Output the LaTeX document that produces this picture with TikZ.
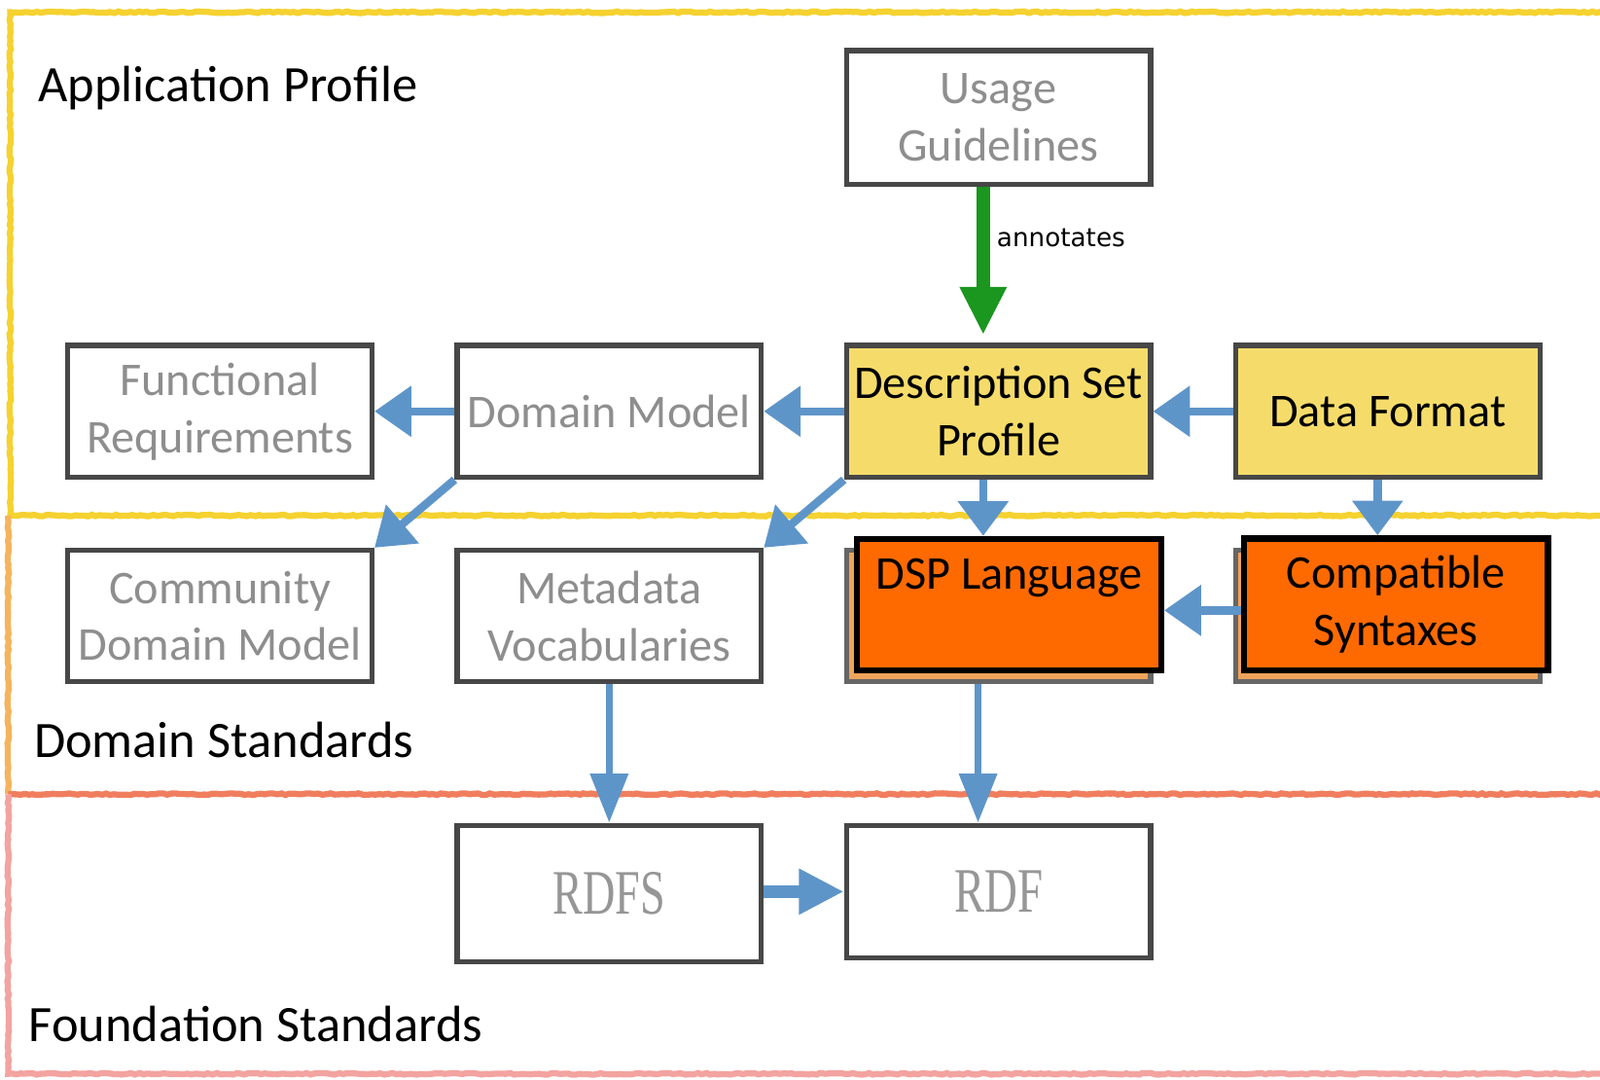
\documentclass[tikz,border=0pt]{standalone}
\usepackage{fontspec}
\setmainfont{Carlito}
\newfontfamily\annofont{DejaVu Sans}
\newfontfamily\rdffont{Liberation Serif}
\usetikzlibrary{positioning,arrows.meta,decorations.pathmorphing}
\tikzset{>=latex}
\definecolor{bandyellow}{HTML}{F5D230}
\definecolor{bandorange}{HTML}{F5B45C}
\definecolor{bandsalmon}{HTML}{F07E5E}
\definecolor{bandpink}{HTML}{F3A3A0}
\definecolor{dspyellow}{HTML}{F5DC6A}
\definecolor{boxorange}{HTML}{FF6A00}
\definecolor{backorange}{HTML}{EFA45A}
\definecolor{arrowblue}{HTML}{5E95C9}
\definecolor{arrowgreen}{HTML}{1B961F}
\definecolor{boxgray}{HTML}{8E8E8E}
\definecolor{rdfgray}{HTML}{969696}
\tikzset{
  box/.style={draw=black!72, line width=2.5pt, fill=white, minimum width=149pt, minimum height=64.5pt, inner sep=2pt, align=center, text=boxgray, font=\fontsize{23}{28}\selectfont},
  yellowbox/.style={box, fill=dspyellow, text=black},
  backbox/.style={box, draw=black!60, fill=backorange},
  orangebox/.style={box, draw=black, line width=3pt, fill=boxorange, text=black},
  bluearrow/.style={draw=arrowblue, line width=4pt, -{Triangle[width=24pt,length=18pt]}},
  shortarrow/.style={bluearrow, -{Triangle[width=24pt,length=17pt]}},
  longarrow/.style={draw=arrowblue, line width=3.5pt, -{Triangle[width=18pt,length=24pt]}},
  fatarrow/.style={draw=arrowblue, line width=6pt, -{Triangle[width=21pt,length=22pt]}},
  greenarrow/.style={draw=arrowgreen, line width=6.5pt, -{Triangle[width=21.5pt,length=23.5pt]}, shorten >=4pt},
  anno/.style={right=3pt, inner sep=0.5pt, text=black, font=\annofont\fontsize{12.5}{15}\selectfont},
  band/.style={line width=3pt, decorate, decoration={random steps, segment length=2pt, amplitude=0.4pt}},
  bandlabel/.style={anchor=base west, inner sep=0pt, font=\fontsize{25}{30}\selectfont}
}

\begin{document}
\begin{tikzpicture}[x=0.5pt, y=-0.5pt]
  \useasboundingbox (0,0) rectangle (1568,1058);
  \draw[band, draw=bandyellow] (1600,12) -- (10,12) -- (10,505) -- (1600,505);
  \draw[band, draw=bandorange] (8,505) -- (8,778);
  \draw[band, draw=bandsalmon] (8,778) -- (1600,778);
  \draw[band, draw=bandpink] (8,778) -- (8,1052) -- (1600,1052);
  \node[bandlabel] (ap) at (37,100) {Application Profile};
  \node[bandlabel] (ds) at (33,742) {Domain Standards};
  \node[bandlabel] (fs) at (28,1020) {Foundation Standards};

  \node[yellowbox] (dsp) at (978.5,403) {Description Set\\Profile};
  \node[box, left=39.25pt of dsp] (dm) {Domain Model};
  \node[box, left=39.25pt of dm] (fr) {Functional\\Requirements};
  \node[yellowbox, right=39.25pt of dsp] (df) {Data Format};
  \node[box, minimum height=65.5pt, above=76.5pt of dsp] (ug) {Usage\\Guidelines};
  \node[box, below=33.25pt of fr] (cdm) {Community\\Domain Model};
  \node[box, below=33.25pt of dm] (mv) {Metadata\\Vocabularies};
  \node[backbox, below=33.25pt of dsp] (dspl back) {};
  \node[backbox, below=33.25pt of df] (cs back) {};
  \node[orangebox] (dspl) at ([xshift=5.25pt,yshift=5.5pt]dspl back.center) {DSP Language\\[-6pt]\strut};
  \node[orangebox] (cs) at ([xshift=4pt,yshift=5.75pt]cs back.center) {Compatible\\Syntaxes};
  \node[box, minimum height=67pt, below=67.75pt of mv, text=rdfgray] (rdfs) {\rdffont\fontsize{31}{34}\selectfont\scalebox{0.71}[1]{RDFS}};
  \node[box, minimum height=65pt, right=39.25pt of rdfs.north east, anchor=north west, text=rdfgray] (rdf) {\rdffont\fontsize{31}{34}\selectfont\scalebox{0.72}[1]{RDF}};

  \draw[greenarrow] ([xshift=-7.5pt]ug.south) -- node[anno, pos=0.33]{annotates} ([xshift=-7.5pt]ug.south |- dsp.north);
  \draw[bluearrow] (dm) -- (fr);
  \draw[bluearrow] (dsp) -- (dm);
  \draw[bluearrow] (df) -- (dsp);
  \draw[bluearrow] (dm.south west) -- (cdm.north east);
  \draw[bluearrow] (dsp.south west) -- (mv.north east);
  \draw[shortarrow] ([xshift=-7.5pt]dsp.south) -- ([xshift=-7.5pt]dsp.south |- dspl.north);
  \draw[shortarrow] ([xshift=-5pt]df.south) -- ([xshift=-5pt]df.south |- cs.north);
  \draw[bluearrow] ([yshift=-3pt]cs.west) -- ([yshift=-3pt]cs.west -| dspl.east);
  \draw[longarrow] (mv) -- (rdfs);
  \draw[longarrow] ([xshift=-10pt]dspl back.south) -- ([xshift=-10pt]dspl back.south |- rdf.north);
  \draw[fatarrow] (rdfs.east |- rdf.center) -- (rdf.west);
\end{tikzpicture}
\end{document}
